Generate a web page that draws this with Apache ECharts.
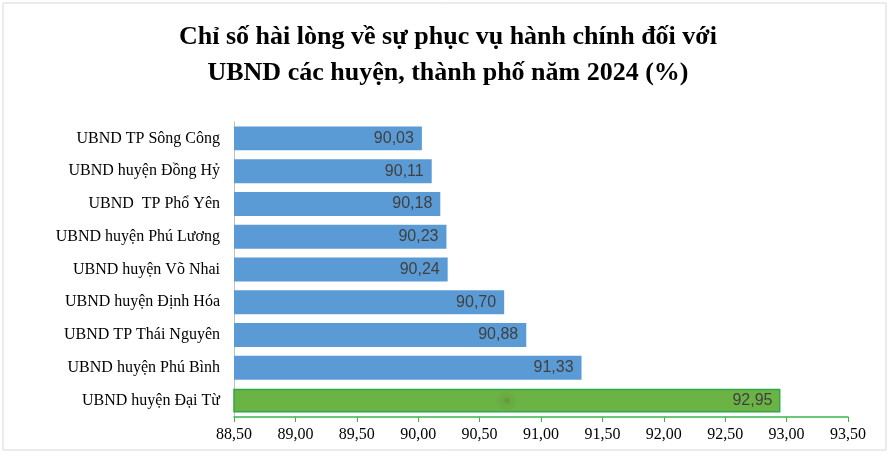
<!DOCTYPE html><html><head><meta charset="utf-8"><script src="https://cdn.jsdelivr.net/npm/echarts@6/dist/echarts.min.js"></script>
<style>body{margin:0}#c{width:896px;height:468px}</style></head><body><div id="c"></div><script>
const categories=["UBND TP Sông Công","UBND huyện Đồng Hỷ","UBND  TP Phổ Yên","UBND huyện Phú Lương","UBND huyện Võ Nhai","UBND huyện Định Hóa","UBND TP Thái Nguyên","UBND huyện Phú Bình","UBND huyện Đại Từ"];
const values=[90.03,90.11,90.18,90.23,90.24,90.70,90.88,91.33,92.95];
const c=echarts.init(document.getElementById('c'));
const serif='"Liberation Serif","Times New Roman",serif';
c.setOption({
graphic:[{type:'rect',shape:{x:3,y:3,width:883,height:447},style:{fill:'none',stroke:'#d9d9d9',lineWidth:1}}],
title:{text:'Chỉ số hài lòng về sự phục vụ hành chính đối với\nUBND các huyện, thành phố năm 2024 (%)',left:'center',top:14,textStyle:{fontFamily:serif,fontSize:26,fontWeight:'bold',color:'#000',lineHeight:36}},
grid:{left:234,right:48,top:122,bottom:51},
xAxis:{type:'value',min:88.5,max:93.5,interval:0.5,splitLine:{show:false},
axisLine:{show:true,lineStyle:{color:'#3cb44b',width:1.5}},axisTick:{show:true,length:5,lineStyle:{color:'#3cb44b'}},
axisLabel:{fontFamily:serif,fontSize:16,color:'#000',margin:10,formatter:v=>v.toFixed(2).replace('.',',')}},
yAxis:{type:'category',inverse:true,data:categories,axisLine:{show:true,lineStyle:{color:'#bfbfbf'}},axisTick:{show:false},
axisLabel:{fontFamily:serif,fontSize:16,color:'#000',margin:14}},
series:[{type:'bar',barCategoryGap:'27%',data:values.map((v,i)=>i===8?{value:v,itemStyle:{color:new echarts.graphic.RadialGradient(0.5,0.5,0.5,[{offset:0,color:'#638f3e'},{offset:0.3,color:'#69a840'},{offset:1,color:'#6cb346'}]),borderColor:'#2ea84a',borderWidth:1.5}}:v),
itemStyle:{color:'#5b9bd5'},
label:{show:true,position:'insideRight',distance:8,fontFamily:'"Liberation Sans",Arial,sans-serif',fontSize:16,color:'#404040',formatter:p=>p.value.toFixed(2).replace('.',',')}}]
});
</script></body></html>
